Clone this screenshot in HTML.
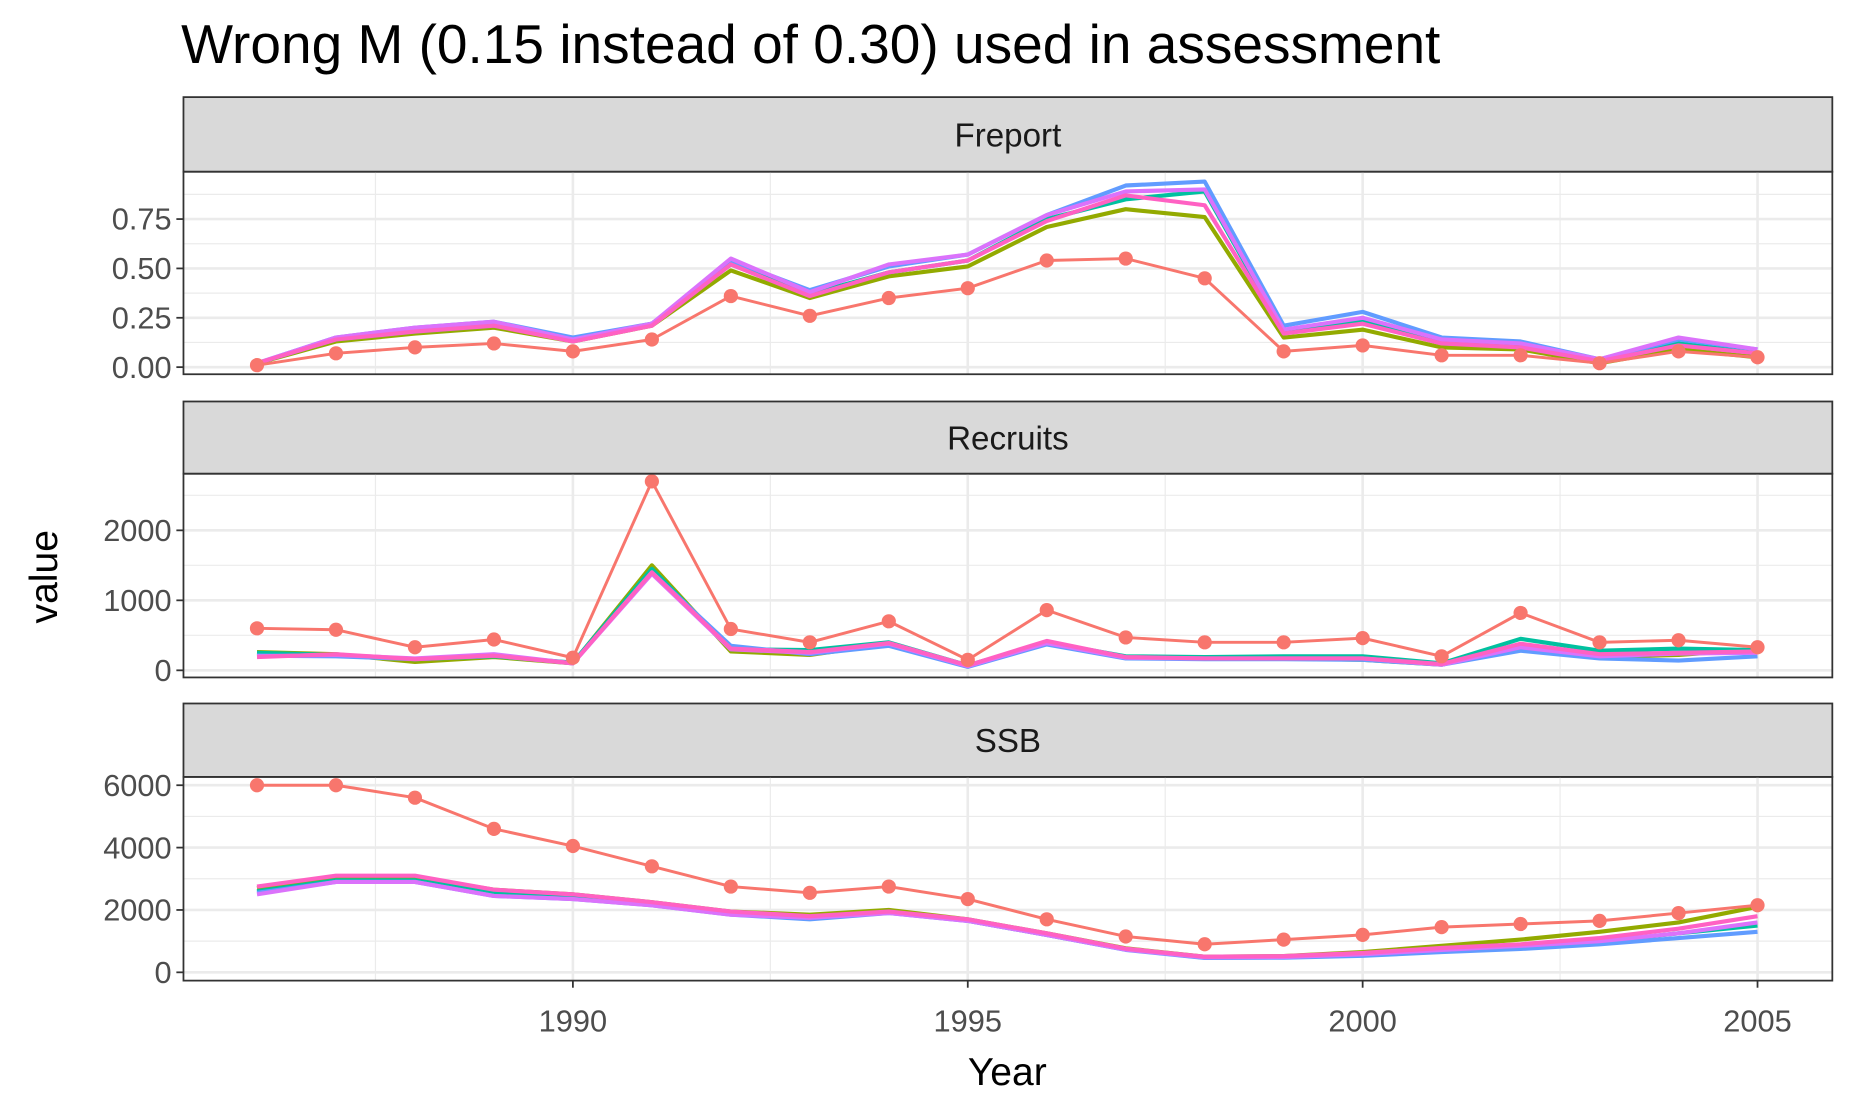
<!DOCTYPE html>
<html><head><meta charset="utf-8"><style>
html,body{margin:0;padding:0;background:#fff;}
svg{display:block;}
text{font-family:"Liberation Sans",Arial,sans-serif;}
</style></head><body>
<svg id="chart" width="1856" height="1118" viewBox="0 0 1568 944" preserveAspectRatio="none" xmlns="http://www.w3.org/2000/svg">
<text x="153" y="53" font-size="46.5" fill="#000">Wrong M (0.15 instead of 0.30) used in assessment</text>
<text transform="translate(48,487) rotate(-90)" font-size="33" text-anchor="middle" fill="#000">value</text>
<text x="851" y="916" font-size="33" text-anchor="middle" fill="#000">Year</text>
<g id="panels"></g>
</svg>
<script>
const years = [1986,1987,1988,1989,1990,1991,1992,1993,1994,1995,1996,1997,1998,1999,2000,2001,2002,2003,2004,2005];
const xTicks = [1990,1995,2000,2005];
const simColors = ["#93AA00","#00C19F","#619CFF","#DB72FB","#FF61C3"];
const obsColor = "#F8766D";

const fObs = [0.01,0.07,0.10,0.12,0.08,0.14,0.36,0.26,0.35,0.40,0.54,0.55,0.45,0.08,0.11,0.06,0.06,0.02,0.08,0.05];
const fSim1 = [0.02,0.13,0.17,0.20,0.13,0.21,0.49,0.35,0.46,0.51,0.71,0.80,0.76,0.15,0.19,0.10,0.09,0.02,0.09,0.05];
const fSim2 = [0.02,0.14,0.18,0.21,0.14,0.22,0.52,0.37,0.48,0.54,0.75,0.85,0.89,0.18,0.24,0.12,0.11,0.03,0.12,0.07];
const fSim3 = [0.02,0.15,0.20,0.23,0.15,0.22,0.54,0.39,0.51,0.57,0.77,0.92,0.94,0.21,0.28,0.15,0.13,0.04,0.14,0.09];
const fSim4 = [0.02,0.15,0.20,0.23,0.14,0.22,0.55,0.38,0.52,0.57,0.77,0.89,0.90,0.19,0.25,0.14,0.12,0.04,0.15,0.09];
const fSim5 = [0.02,0.14,0.18,0.21,0.13,0.21,0.52,0.36,0.48,0.54,0.74,0.87,0.82,0.17,0.22,0.12,0.10,0.03,0.11,0.07];
const fTicks = [0,0.25,0.5,0.75];
const fLabels = ["0.00","0.25","0.50","0.75"];

const rObs = [600,580,330,440,180,2700,590,400,700,150,860,470,400,400,460,200,820,400,430,330];
const rSim1 = [260,230,120,190,100,1500,270,220,380,70,390,190,170,170,150,80,350,190,220,300];
const rSim2 = [250,220,160,200,110,1450,300,290,400,70,400,200,190,200,200,100,450,280,310,290];
const rSim3 = [210,200,160,210,100,1400,350,230,350,50,370,170,160,160,150,80,280,170,140,200];
const rSim4 = [200,220,170,230,100,1380,300,250,380,60,390,180,170,170,170,80,330,200,240,250];
const rSim5 = [190,230,160,210,100,1400,310,260,390,70,420,190,170,170,170,90,380,230,250,270];
const rTicks = [0,1000,2000];
const rLabels = ["0","1000","2000"];

const sObs = [6000,6000,5600,4600,4050,3400,2750,2550,2750,2350,1700,1150,900,1050,1200,1450,1550,1650,1900,2150];
const sSim1 = [2700,3050,3050,2650,2500,2250,1950,1850,2000,1700,1250,770,500,520,650,850,1050,1300,1600,2100];
const sSim2 = [2600,2950,2950,2550,2400,2200,1900,1750,1950,1650,1200,730,470,480,560,700,820,980,1250,1500];
const sSim3 = [2550,2900,2900,2450,2350,2150,1850,1700,1900,1650,1200,720,460,470,530,650,750,900,1100,1300];
const sSim4 = [2500,2900,2900,2450,2350,2150,1850,1750,1900,1650,1200,730,480,490,580,720,850,1000,1250,1600];
const sSim5 = [2750,3100,3100,2650,2500,2250,1950,1800,1950,1700,1250,760,500,520,620,780,900,1100,1400,1800];
const sTicks = [0,2000,4000,6000];
const sLabels = ["0","2000","4000","6000"];

const NS="http://www.w3.org/2000/svg";
const root=document.getElementById('panels');
const L=155,R=1548;
function xs(y){return 484+(y-1990)*66.72;}
function mk(tag,attrs,parent){const e=document.createElementNS(NS,tag);for(const k in attrs)e.setAttribute(k,attrs[k]);(parent||root).appendChild(e);return e;}

const panels=[
 {name:"Freport",sy:82,top:145,bot:316,y0:310,scale:166.7,ticks:fTicks,labels:fLabels,minor:[0.125,0.375,0.625,0.875],obs:fObs,sims:[fSim1,fSim2,fSim3,fSim4,fSim5]},
 {name:"Recruits",sy:339,top:400,bot:572,y0:566,scale:0.0591,ticks:rTicks,labels:rLabels,minor:[500,1500,2500],obs:rObs,sims:[rSim1,rSim2,rSim3,rSim4,rSim5]},
 {name:"SSB",sy:594,top:656,bot:828,y0:821,scale:0.02633,ticks:sTicks,labels:sLabels,minor:[1000,3000,5000],obs:sObs,sims:[sSim1,sSim2,sSim3,sSim4,sSim5]}
];
panels.forEach((p,pi)=>{
 const g=mk('g',{});
 
 
 const ys=v=>p.y0-v*p.scale;
 const strip=mk('rect',{x:L,y:p.sy,width:R-L,height:p.top-p.sy,fill:"#D9D9D9",stroke:"#333",'stroke-width':1.5},g);
 
 
 const st=mk('text',{x:(L+R)/2,y:p.sy+(p.top-p.sy)/2+10,'font-size':28,'text-anchor':'middle',fill:'#1A1A1A'},g);
 st.textContent=p.name;
 
 
 p.minor.forEach(v=>{const yy=ys(v);if(yy>p.top&&yy<p.bot)mk('line',{x1:L,x2:R,y1:yy,y2:yy,stroke:'#EBEBEB','stroke-width':1},g);});
 [1987.5,1992.5,1997.5,2002.5].forEach(y=>mk('line',{x1:xs(y),x2:xs(y),y1:p.top,y2:p.bot,stroke:'#EBEBEB','stroke-width':1},g));
 p.ticks.forEach((v,i)=>{const yy=ys(v);
  mk('line',{x1:L,x2:R,y1:yy,y2:yy,stroke:'#EBEBEB','stroke-width':2.2},g);
  mk('line',{x1:L-6,x2:L,y1:yy,y2:yy,stroke:'#333','stroke-width':1.5},g);
  const t=mk('text',{x:L-10,y:yy+9,'font-size':26,'text-anchor':'end',fill:'#4D4D4D'},g);
  t.textContent=p.labels[i];
  
  
 });
 xTicks.forEach(y=>mk('line',{x1:xs(y),x2:xs(y),y1:p.top,y2:p.bot,stroke:'#EBEBEB','stroke-width':2.2},g));
 p.sims.forEach((s,si)=>{
  const pl=mk('polyline',{points:s.map((v,i)=>xs(years[i])+','+ys(v)).join(' '),fill:'none',stroke:simColors[si],'stroke-width':3.5,'stroke-linejoin':'round'},g);
  
  
 });
 const ol=mk('polyline',{points:p.obs.map((v,i)=>xs(years[i])+','+ys(v)).join(' '),fill:'none',stroke:obsColor,'stroke-width':2.5},g);
 
 
 p.obs.forEach((v,i)=>{
  const c=mk('circle',{cx:xs(years[i]),cy:ys(v),r:6,fill:obsColor},g);
  
  
 });
 mk('rect',{x:L,y:p.top,width:R-L,height:p.bot-p.top,fill:'none',stroke:'#333','stroke-width':1.5},g);
 if(pi===2){
  xTicks.forEach(y=>{
   mk('line',{x1:xs(y),x2:xs(y),y1:p.bot,y2:p.bot+6,stroke:'#333','stroke-width':1.5},g);
   const t=mk('text',{x:xs(y),y:p.bot+43,'font-size':26,'text-anchor':'middle',fill:'#4D4D4D'},g);
   t.textContent=y;
   
   
  });
 }
});
</script>
</body></html>
